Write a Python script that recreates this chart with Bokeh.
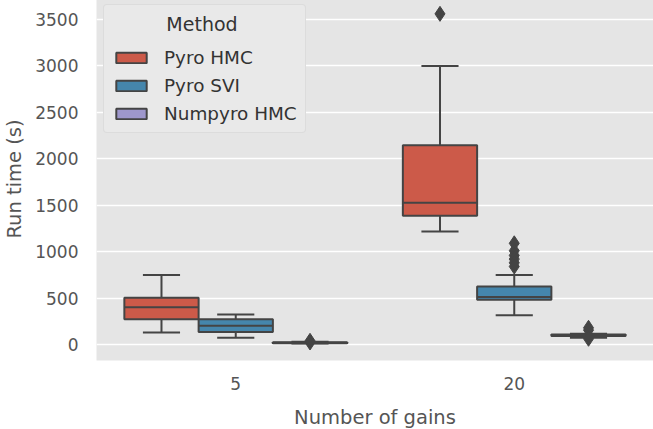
from bokeh.plotting import figure
from bokeh.models import FixedTicker, Range1d, ColumnDataSource, Legend, LegendItem
from bokeh.embed import file_html
from bokeh.resources import INLINE

# ---- data ----
gains = ["5", "20"]
methods = ["Pyro HMC", "Pyro SVI", "Numpyro HMC"]
colors = ["#CC5A49", "#4586AC", "#9E97CC"]

# per method: values for gains 5 and 20
whisker_low = {"Pyro HMC": [129, 1217], "Pyro SVI": [72, 316], "Numpyro HMC": [12, 72]}
q1 = {"Pyro HMC": [273, 1386], "Pyro SVI": [136, 481], "Numpyro HMC": [15, 92]}
median = {"Pyro HMC": [402, 1526], "Pyro SVI": [201, 513], "Numpyro HMC": [20, 100]}
q3 = {"Pyro HMC": [503, 2146], "Pyro SVI": [273, 625], "Numpyro HMC": [25, 108]}
whisker_high = {"Pyro HMC": [750, 3000], "Pyro SVI": [323, 750], "Numpyro HMC": [30, 115]}
outliers = {
    "Pyro HMC": [[], [3561]],
    "Pyro SVI": [[], [1090, 1010, 960, 920, 880, 840]],
    "Numpyro HMC": [[22, 40], [180, 155, 62]],
}

yticks = [0, 500, 1000, 1500, 2000, 2500, 3000, 3500]

# ---- figure ----
X0, X1 = -0.5, 1.5
Y0, Y1 = -172, 3737
FW, FH = 557, 363
p = figure(width=645, height=424, output_backend="svg", toolbar_location=None,
           x_range=Range1d(X0, X1), y_range=Range1d(Y0, Y1),
           min_border_left=88, min_border_right=0, min_border_top=0, min_border_bottom=61)
p.frame_width = FW
p.frame_height = FH
p.styles = {"margin-top": "-3px"}

p.background_fill_color = "#E5E5E5"
p.border_fill_color = "white"
p.outline_line_color = None
p.xgrid.grid_line_color = None
p.ygrid.grid_line_color = "white"
p.ygrid.grid_line_width = 1.5

for ax in (p.xaxis, p.yaxis):
    ax.axis_line_color = None
    ax.major_tick_line_color = None
    ax.minor_tick_line_color = None
    ax.major_tick_out = 0
    ax.major_tick_in = 0
    ax.minor_tick_out = 0
    ax.minor_tick_in = 0
    ax.major_label_text_color = "#555555"
    ax.major_label_text_font = "DejaVu Sans"
    ax.major_label_text_font_size = "17px"
    ax.axis_label_text_color = "#555555"
    ax.axis_label_text_font = "DejaVu Sans"
    ax.axis_label_text_font_size = "19.5px"
    ax.axis_label_text_font_style = "normal"

p.xaxis.ticker = FixedTicker(ticks=list(range(len(gains))))
p.xaxis.major_label_overrides = {i: g for i, g in enumerate(gains)}
p.xaxis.major_label_standoff = 16
p.xaxis.axis_label = "Number of gains"
p.xaxis.axis_label_standoff = 13

p.yaxis.ticker = FixedTicker(ticks=yticks)
p.yaxis.major_label_standoff = 18
p.yaxis.axis_label = "Run time (s)"
p.yaxis.axis_label_standoff = 6

edge = "#444444"
lw = 2
nh = len(methods)
bw = 0.8 / nh
items = []
for h, m in enumerate(methods):
    xs = [i - 0.4 + bw * (h + 0.5) for i in range(len(gains))]
    src = ColumnDataSource(dict(x=xs, lo=whisker_low[m], q1=q1[m], med=median[m],
                                q3=q3[m], hi=whisker_high[m]))
    # whiskers
    p.segment(x0="x", y0="q3", x1="x", y1="hi", source=src, line_color=edge, line_width=lw)
    p.segment(x0="x", y0="lo", x1="x", y1="q1", source=src, line_color=edge, line_width=lw)
    # caps
    cap_src = ColumnDataSource(dict(x0=[x - bw / 4 for x in xs], x1=[x + bw / 4 for x in xs],
                                    lo=whisker_low[m], hi=whisker_high[m]))
    p.segment(x0="x0", y0="hi", x1="x1", y1="hi", source=cap_src, line_color=edge, line_width=lw)
    p.segment(x0="x0", y0="lo", x1="x1", y1="lo", source=cap_src, line_color=edge, line_width=lw)
    # box
    r = p.vbar(x="x", top="q3", bottom="q1", width=bw, source=src,
               fill_color=colors[h], line_color=edge, line_width=lw)
    # median
    med_src = ColumnDataSource(dict(x0=[x - bw / 2 for x in xs], x1=[x + bw / 2 for x in xs],
                                    med=median[m]))
    p.segment(x0="x0", y0="med", x1="x1", y1="med", source=med_src, line_color=edge, line_width=lw)
    # outliers
    ox, oy = [], []
    for i, vals in enumerate(outliers[m]):
        ox += [xs[i]] * len(vals)
        oy += vals
    if ox:
        p.scatter(ox, oy, marker="diamond", size=15, fill_color=edge, line_color=edge)
    items.append(LegendItem(label=m, renderers=[r]))

# title padded with no-break spaces so that it sits centred, as in matplotlib
legend = Legend(items=items, location="top_left", title="\u00a0" * 9 + "Method")
legend.title_text_font = "DejaVu Sans"
legend.title_text_font_size = "19px"
legend.title_text_font_style = "normal"
legend.title_text_color = "#333333"
legend.label_text_font = "DejaVu Sans"
legend.label_text_font_size = "18.4px"
legend.label_text_color = "#333333"
legend.background_fill_color = "#E9E9E9"
legend.background_fill_alpha = 1.0
legend.border_line_color = "#CFCFCF"
legend.border_line_width = 1
legend.border_radius = 4
legend.glyph_width = 38
legend.glyph_height = 13
legend.label_height = 20
legend.spacing = 7
legend.padding = 8
legend.margin = 7
legend.label_standoff = 14
legend.title_standoff = 12
p.add_layout(legend)

open("out.html", "w").write(file_html(p, INLINE))
